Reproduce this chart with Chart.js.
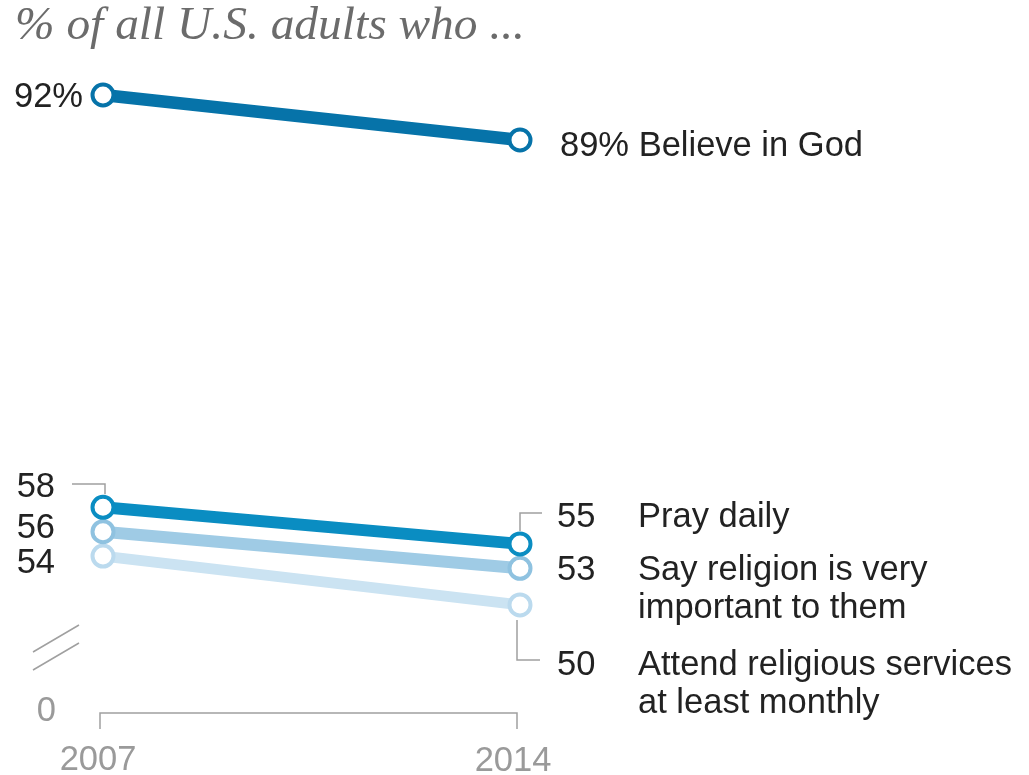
<!DOCTYPE html>
<html>
<head>
<meta charset="utf-8">
<script src="https://cdn.jsdelivr.net/npm/chart.js@4.4.1/dist/chart.umd.min.js"></script>
<style>
  html, body { margin: 0; padding: 0; background: #ffffff; }
  #wrap { width: 1029px; height: 775px; position: relative; }
  canvas { display: block; }
</style>
</head>
<body>
<div id="wrap"><canvas id="c" width="1029" height="775"></canvas></div>
<script>
// ---- Data ----
const categories = ['2007', '2014'];
const believeInGod = [92, 89];
const prayDaily = [58, 55];
const religionVeryImportant = [56, 53];
const attendMonthly = [54, 50];
const titleText = '% of all U.S. adults who ...';
const believeLabel = 'Believe in God';
const prayLabel = ['Pray daily'];
const religionLabel = ['Say religion is very', 'important to them'];
const attendLabel = ['Attend religious services', 'at least monthly'];
const baseTick = '0';

const SANS = '"Liberation Sans", Arial, sans-serif';
const SERIF = '"Liberation Serif", "DejaVu Serif", serif';

const C_BELIEVE = '#0673a9';
const C_PRAY = '#0a8dc2';
const C_REL = '#9fcbe5';
const C_ATT = '#cbe3f2';
const P_REL = '#8fc2e0';
const P_ATT = '#bbdaee';

function ds(label, data, color, pColor, width, axis) {
  return {
    label: label,
    data: data,
    yAxisID: axis,
    borderColor: color,
    backgroundColor: color,
    borderWidth: width,
    borderCapStyle: 'round',
    pointRadius: 10.5,
    pointHoverRadius: 10.5,
    pointBorderWidth: 4,
    pointBorderColor: pColor,
    pointBackgroundColor: '#ffffff',
    tension: 0
  };
}

const annot = {
  id: 'annot',
  afterDraw(chart) {
    const ctx = chart.ctx;
    const xs = chart.scales.x;
    const x0 = xs.getPixelForValue(0);
    const x1 = xs.getPixelForValue(1);
    ctx.save();

    // Title (fit to reference width)
    let fs = 40;
    ctx.font = 'italic ' + fs + 'px ' + SERIF;
    const w = ctx.measureText(titleText).width;
    fs = fs * 510 / w;
    ctx.font = 'italic ' + fs.toFixed(2) + 'px ' + SERIF;
    ctx.fillStyle = '#6b6b6b';
    ctx.textBaseline = 'alphabetic';
    ctx.textAlign = 'left';
    ctx.fillText(titleText, 15, 39);

    // Value labels
    ctx.font = '34.5px ' + SANS;
    ctx.fillStyle = '#222222';
    ctx.textAlign = 'right';
    ctx.fillText(believeInGod[0] + '%', 83, 107);
    ctx.fillText(String(prayDaily[0]), 55, 497);
    ctx.fillText(String(religionVeryImportant[0]), 55, 538);
    ctx.fillText(String(attendMonthly[0]), 55, 573);

    ctx.textAlign = 'left';
    ctx.fillText(believeInGod[1] + '% ' + believeLabel, 560, 156);
    ctx.fillText(String(prayDaily[1]), 557, 527);
    ctx.fillText(prayLabel[0], 638, 527);
    ctx.fillText(String(religionVeryImportant[1]), 557, 580);
    ctx.fillText(religionLabel[0], 638, 580);
    ctx.fillText(religionLabel[1], 638, 618);
    ctx.fillText(String(attendMonthly[1]), 557, 675);
    ctx.fillText(attendLabel[0], 638, 675);
    ctx.fillText(attendLabel[1], 638, 713);

    // Gray elements
    ctx.fillStyle = '#9a9a9a';
    ctx.textAlign = 'right';
    ctx.fillText(baseTick, 56, 721);
    ctx.textAlign = 'center';
    ctx.fillText(categories[0], x0 - 5, 770);
    ctx.fillText(categories[1], x1 - 7, 771);

    ctx.strokeStyle = '#a0a0a0';
    ctx.lineWidth = 1.5;
    // x axis baseline + ticks
    ctx.beginPath();
    ctx.moveTo(x0 - 3, 729);
    ctx.lineTo(x0 - 3, 713);
    ctx.lineTo(x1 - 3, 713);
    ctx.lineTo(x1 - 3, 729);
    ctx.stroke();
    // axis break marks
    ctx.beginPath();
    ctx.moveTo(33, 652); ctx.lineTo(79, 625);
    ctx.moveTo(33, 670); ctx.lineTo(79, 643);
    ctx.stroke();
    // callouts
    const ysB = chart.scales.yb;
    const pPray0 = ysB.getPixelForValue(prayDaily[0]);
    const pPray1 = ysB.getPixelForValue(prayDaily[1]);
    const pAtt1 = ysB.getPixelForValue(attendMonthly[1]);
    ctx.beginPath();
    ctx.moveTo(72, 484); ctx.lineTo(x0 + 2, 484); ctx.lineTo(x0 + 2, pPray0 - 13);
    ctx.moveTo(x1 + 22, 513); ctx.lineTo(x1, 513); ctx.lineTo(x1, pPray1 - 13);
    ctx.moveTo(x1 - 3, pAtt1 + 15); ctx.lineTo(x1 - 3, 660); ctx.lineTo(x1 + 20, 660);
    ctx.stroke();

    ctx.restore();
  }
};

new Chart(document.getElementById('c'), {
  type: 'line',
  data: {
    labels: categories,
    datasets: [
      ds('Believe in God', believeInGod, C_BELIEVE, C_BELIEVE, 12.5, 'yt'),
      ds('Pray daily', prayDaily, C_PRAY, C_PRAY, 12, 'yb'),
      ds('Say religion is very important to them', religionVeryImportant, C_REL, P_REL, 12, 'yb'),
      ds('Attend religious services at least monthly', attendMonthly, C_ATT, P_ATT, 11, 'yb')
    ]
  },
  options: {
    responsive: false,
    animation: false,
    devicePixelRatio: 1,
    layout: { padding: { left: 103, right: 509, top: 60, bottom: 62 } },
    plugins: { legend: { display: false }, tooltip: { enabled: false }, title: { display: false } },
    scales: {
      x: { type: 'category', display: false, offset: false },
      yt: { type: 'linear', display: false, min: 50.8, max: 94.333 },
      yb: { type: 'linear', display: false, min: 41.14, max: 94.66 }
    }
  },
  plugins: [annot]
});
</script>
</body>
</html>
